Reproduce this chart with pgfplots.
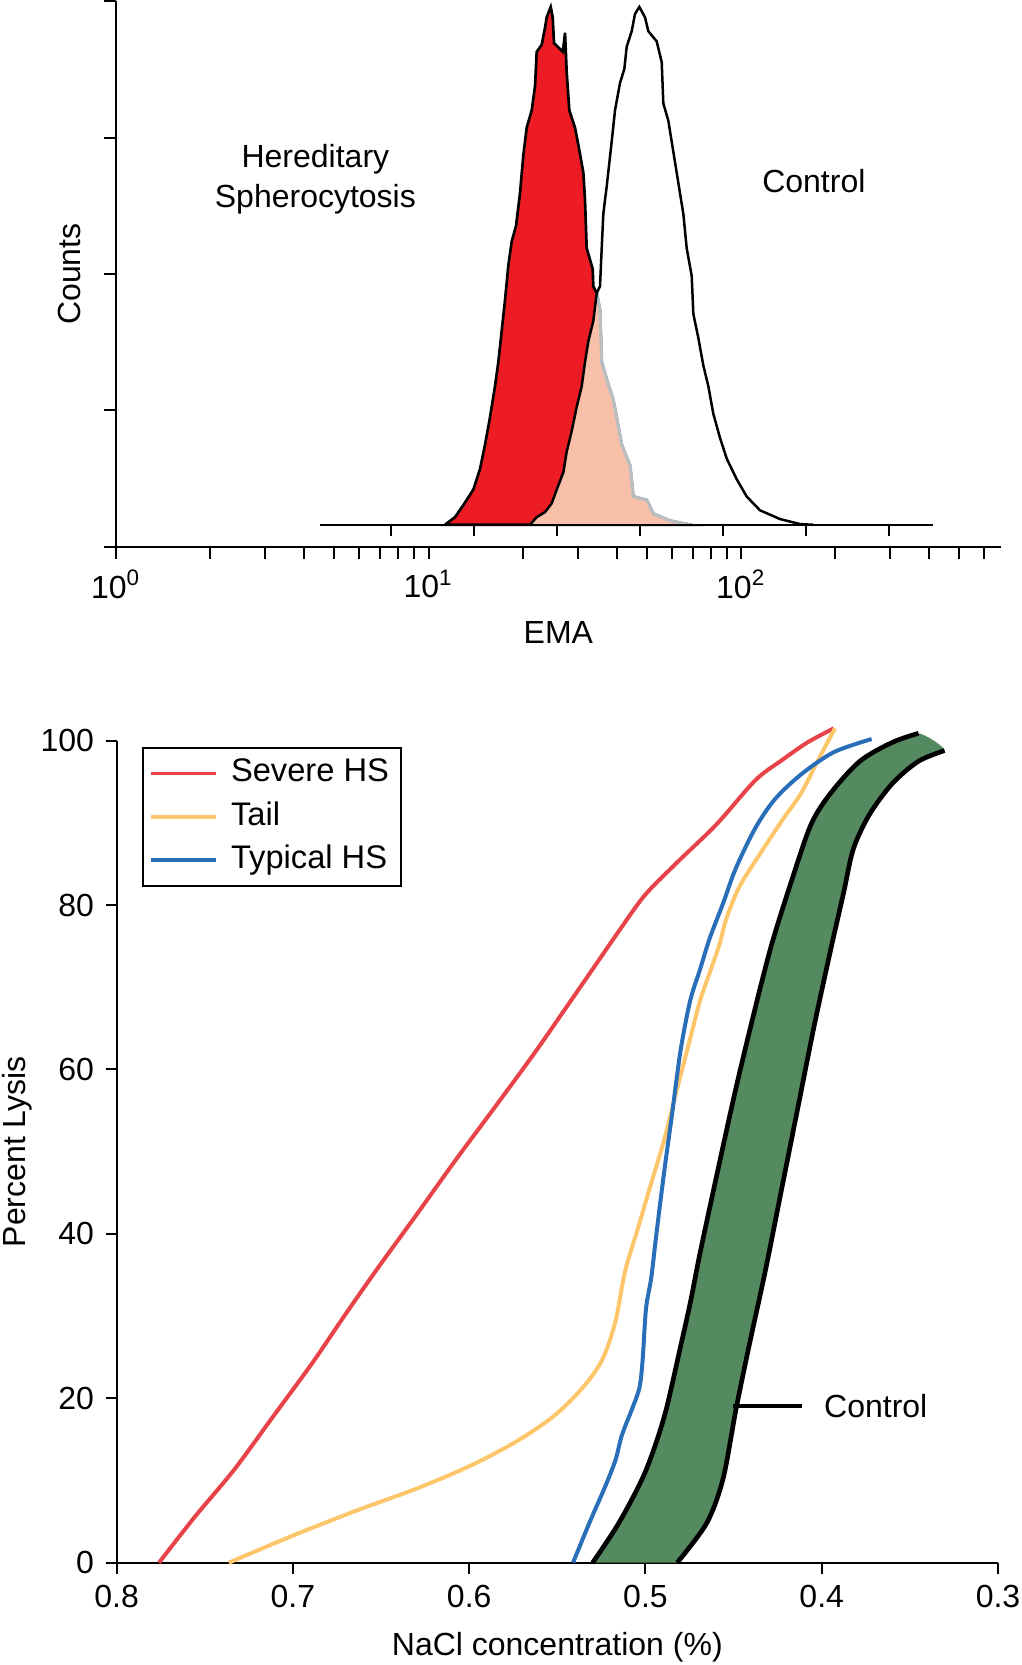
\documentclass[border=0pt]{standalone}
\usepackage{fontspec}
\setmainfont{Liberation Sans}
\usepackage{pgfplots}
\pgfplotsset{compat=1.18}
\definecolor{severe}{RGB}{232,67,72}
\definecolor{tailc}{RGB}{253,198,107}
\definecolor{typical}{RGB}{40,110,185}
\definecolor{ctrlgreen}{RGB}{85,137,95}
\definecolor{hsred}{RGB}{237,28,36}
\definecolor{salmon}{RGB}{248,192,168}
\definecolor{tailgray}{RGB}{185,190,195}
\begin{document}
\begin{tikzpicture}[font=\fontsize{9.6}{11.5}\selectfont]
\path[use as bounding box] (0,0) rectangle (306.6pt,499.5pt);
% ---------------- top panel ----------------
\begin{axis}[
  at={(34.8pt,335.52pt)}, anchor=south west,
  scale only axis, width=265.41pt, height=163.53pt,
  xmin=0, xmax=2.831, ymin=0, ymax=4,
  axis x line=bottom, axis y line=left,
  axis line style={-, line width=0.6pt},
  tick align=outside, major tick length=3.6pt, minor tick length=3.6pt,
  every tick/.style={black, line width=0.6pt},
  xtick={0,1,2},
  xticklabels={10\textsuperscript{0},10\textsuperscript{1},10\textsuperscript{2}},
  minor xtick={0.30103,0.47712,0.60206,0.69897,0.77815,0.84510,0.90309,0.95424,
               1.30103,1.47712,1.60206,1.69897,1.77815,1.84510,1.90309,1.95424,
               2.30103,2.47712,2.60206,2.69897,2.77815},
  ytick={0,1,2,3,4}, yticklabels={,,,,},
  xlabel={EMA}, ylabel={Counts},
  xlabel style={at={(axis description cs:0.5,-0.1585)}, anchor=center},
  ylabel style={at={(axis description cs:-0.0527,0.5)}, anchor=center},
  clip=false,
]
% Hereditary spherocytosis histogram (x in log10 EMA)
\addplot[fill=hsred, draw=black, line width=0.8pt, forget plot] coordinates {
(1.0528,0.16)(1.0848,0.216)(1.1114,0.304)(1.1434,0.418)(1.1648,0.569)(1.1808,0.747)
(1.1968,0.949)(1.2128,1.177)(1.2234,1.354)(1.2342,1.582)(1.2448,1.809)(1.2554,2.062)
(1.2662,2.239)(1.2800,2.353)(1.2928,2.594)(1.3034,2.872)(1.3142,3.074)(1.3302,3.201)
(1.3408,3.378)(1.3462,3.631)(1.3622,3.682)(1.3728,3.808)(1.3782,3.884)(1.3910,3.960)
(1.3974,3.884)(1.4016,3.694)(1.4300,3.631)(1.4368,3.77)(1.4400,3.60)(1.4422,3.479)
(1.4506,3.201)(1.4688,3.074)(1.4794,2.948)(1.4954,2.745)(1.5008,2.543)(1.5062,2.189)
(1.5254,2.037)(1.5274,1.910)(1.5382,1.860)(1.5488,1.734)(1.5542,1.354)(1.5702,1.227)
(1.5914,1.076)(1.6182,0.747)(1.6448,0.595)(1.6554,0.367)(1.6982,0.342)(1.7194,0.241)
(1.7728,0.190)(1.8368,0.16)} -- cycle;
% overlap of the two histograms
\addplot[fill=salmon, draw=none, forget plot] coordinates {
(1.3248,0.16)(1.3462,0.216)(1.3728,0.253)(1.3942,0.317)(1.4102,0.418)(1.4314,0.544)
(1.4422,0.696)(1.4582,0.848)(1.4742,1.025)(1.4902,1.177)(1.5008,1.354)(1.5114,1.506)
(1.5274,1.657)(1.5382,1.860)(1.5488,1.734)(1.5542,1.354)(1.5702,1.227)
(1.5914,1.076)(1.6182,0.747)(1.6448,0.595)(1.6554,0.367)(1.6982,0.342)(1.7194,0.241)
(1.7728,0.190)(1.8368,0.16)} -- cycle;
\addplot[draw=tailgray, line width=0.95pt, forget plot] coordinates {
(1.5382,1.860)(1.5488,1.734)(1.5542,1.354)(1.5702,1.227)
(1.5914,1.076)(1.6182,0.747)(1.6448,0.595)(1.6554,0.367)(1.6982,0.342)(1.7194,0.241)
(1.7728,0.190)(1.8368,0.16)};
% control histogram
\addplot[draw=black, line width=0.75pt, forget plot] coordinates {
(1.3248,0.16)(1.3462,0.216)(1.3728,0.253)(1.3942,0.317)(1.4102,0.418)(1.4314,0.544)
(1.4422,0.696)(1.4582,0.848)(1.4742,1.025)(1.4902,1.177)(1.5008,1.354)(1.5114,1.506)
(1.5274,1.657)(1.5382,1.860)(1.5488,1.910)(1.5542,2.189)(1.5594,2.442)(1.5702,2.644)
(1.5862,2.973)(1.5968,3.201)(1.6128,3.403)(1.6266,3.504)(1.6342,3.668)(1.6502,3.782)
(1.6608,3.909)(1.6746,3.960)(1.6928,3.884)(1.7034,3.782)(1.7302,3.707)(1.7462,3.555)
(1.7514,3.252)(1.7674,3.125)(1.7834,2.897)(1.7994,2.669)(1.8154,2.442)(1.8262,2.189)
(1.8422,1.986)(1.8474,1.708)(1.8634,1.531)(1.8794,1.329)(1.8954,1.177)(1.9114,0.974)
(1.9328,0.797)(1.9542,0.646)(1.9862,0.494)(2.0182,0.367)(2.0608,0.266)(2.1248,0.202)
(2.1888,0.165)(2.2314,0.16)};
% histogram baseline with its own ticks
\addplot[draw=black, line width=0.6pt, forget plot] coordinates {(0.653,0.16)(2.615,0.16)};
\addplot[draw=black, line width=0.6pt, unbounded coords=jump, forget plot] coordinates {
(0.880,0.16)(0.880,0.079)(0.880,nan)
(1.146,0.16)(1.146,0.079)(1.146,nan)
(1.412,0.16)(1.412,0.079)(1.412,nan)
(1.677,0.16)(1.677,0.079)(1.677,nan)
(1.943,0.16)(1.943,0.079)(1.943,nan)
(2.208,0.16)(2.208,0.079)(2.208,nan)
(2.474,0.16)(2.474,0.079)};
\node[align=center, font=\fontsize{9.6}{12}\selectfont] at (axis cs:0.638,2.693) {Hereditary\\Spherocytosis};
\node at (axis cs:2.233,2.685) {Control};
\end{axis}
% ---------------- bottom panel ----------------
\begin{axis}[
  at={(35.01pt,30.69pt)}, anchor=south west,
  scale only axis, width=264.39pt, height=246.6pt,
  xmin=0.3, xmax=0.8, x dir=reverse, ymin=0, ymax=100,
  axis x line=bottom, axis y line=left,
  axis line style={-, line width=0.6pt},
  tick align=outside, major tick length=3.3pt,
  every tick/.style={black, line width=0.6pt},
  xtick={0.3,0.4,0.5,0.6,0.7,0.8}, ytick={0,20,40,60,80,100},
  xticklabel style={/pgf/number format/.cd, fixed, fixed zerofill, precision=1},
  /pgf/number format/assume math mode=true,
  xlabel={NaCl concentration (\%)}, ylabel={Percent Lysis},
  xlabel style={at={(axis description cs:0.5,-0.1123)}, anchor=base},
  ylabel style={at={(axis description cs:-0.1131,0.5)}, anchor=center},
  clip=false,
  legend style={at={(axis description cs:0,1)}, anchor=north west,
    xshift=7.5pt, yshift=-1.8pt, draw=black, line width=0.6pt, fill=white,
    inner xsep=2pt, inner ysep=1.2pt,
    font=\fontsize{9.8}{11}\selectfont,
    nodes={text height=7.3pt, text depth=2.2pt, inner sep=1.75pt},
    cells={anchor=west}, row sep=0pt},
  legend image code/.code={\draw[#1, line width=1.1pt] (0pt,0pt) -- (19.5pt,0pt); \path (21.6pt,0pt);},
]
% control band
\addplot[fill=ctrlgreen, draw=none, smooth, forget plot] coordinates {
(0.53,0)(0.5152,4.8)(0.5004,10.9)(0.4893,17.8)(0.4801,26.3)(0.4746,31.6)(0.469,37.7)
(0.4598,46.9)(0.4487,57.7)(0.4376,67.6)(0.4283,75.3)(0.4172,82.9)(0.4061,89.8)
(0.395,93.6)(0.3784,97.5)(0.3599,99.8)(0.3451,100.9)
(0.3303,98.8)(0.3451,97.5)(0.3599,94.8)(0.373,91.0)(0.3821,86.8)(0.3877,81.4)
(0.395,74.5)(0.4043,65.3)(0.4135,55.4)(0.4228,45.4)(0.432,35.5)(0.4413,26.3)
(0.4487,18.6)(0.456,10.2)(0.4653,4.8)(0.482,0)} -- cycle;
\addplot[draw=black, line width=1.4pt, smooth, forget plot] coordinates {
(0.53,0)(0.5152,4.8)(0.5004,10.9)(0.4893,17.8)(0.4801,26.3)(0.4746,31.6)(0.469,37.7)
(0.4598,46.9)(0.4487,57.7)(0.4376,67.6)(0.4283,75.3)(0.4172,82.9)(0.4061,89.8)
(0.395,93.6)(0.3784,97.5)(0.3599,99.8)(0.3451,100.9)};
\addplot[draw=black, line width=1.4pt, smooth, forget plot] coordinates {
(0.3303,98.8)(0.3451,97.5)(0.3599,94.8)(0.373,91.0)(0.3821,86.8)(0.3877,81.4)
(0.395,74.5)(0.4043,65.3)(0.4135,55.4)(0.4228,45.4)(0.432,35.5)(0.4413,26.3)
(0.4487,18.6)(0.456,10.2)(0.4653,4.8)(0.482,0)};
% curves
\addplot[draw=severe, line width=1.2pt, smooth] coordinates {
(0.776,0)(0.7556,5.6)(0.7334,11.3)(0.7112,17.8)(0.689,24.3)(0.6706,30.1)(0.652,35.8)
(0.630,42.3)(0.608,48.9)(0.5855,55.4)(0.5633,61.9)(0.5448,67.6)(0.530,72.2)(0.5152,76.8)
(0.5004,81.2)(0.482,85.2)(0.4598,89.8)(0.4376,95.2)(0.4228,97.6)(0.408,99.8)(0.3932,101.5)};
\addlegendentry{Severe HS}
\addplot[draw=tailc, line width=1.2pt, smooth] coordinates {
(0.7364,0)(0.700,3.3)(0.6632,6.4)(0.630,9.0)(0.6003,11.7)(0.5744,14.6)(0.5522,17.8)
(0.5356,21.3)(0.5245,24.7)(0.5171,29.3)(0.5115,35.5)(0.5041,40.8)(0.4967,46.2)
(0.4893,51.5)(0.482,57.7)(0.4746,63.8)(0.469,68.4)(0.4635,71.8)(0.4579,75.3)
(0.4542,78.3)(0.4468,82.2)(0.4357,86.0)(0.4228,90.2)(0.4117,93.6)(0.4024,97.5)(0.3925,101.5)};
\addlegendentry{Tail}
\addplot[draw=typical, line width=1.2pt, smooth] coordinates {
(0.5411,0)(0.5319,4.8)(0.5226,9.4)(0.517,12.5)(0.5134,15.5)(0.5078,18.6)(0.5034,21.3)
(0.5016,24.7)(0.4997,30.9)(0.4967,34.7)(0.4938,40.0)(0.4893,47.7)(0.4849,54.6)
(0.4801,62.3)(0.4746,68.4)(0.469,72.2)(0.4635,76.0)(0.456,80.2)(0.4487,84.5)
(0.4376,89.4)(0.4265,92.9)(0.4117,95.9)(0.3932,98.6)(0.3717,100.2)};
\addlegendentry{Typical HS}
% pointer to control band
\addplot[draw=black, line width=1.1pt, forget plot] coordinates {(0.4504,19.1)(0.411,19.1)};
\node[anchor=west, inner sep=0pt] at (axis cs:0.399,19.1) {Control};
\end{axis}
\end{tikzpicture}
\end{document}
